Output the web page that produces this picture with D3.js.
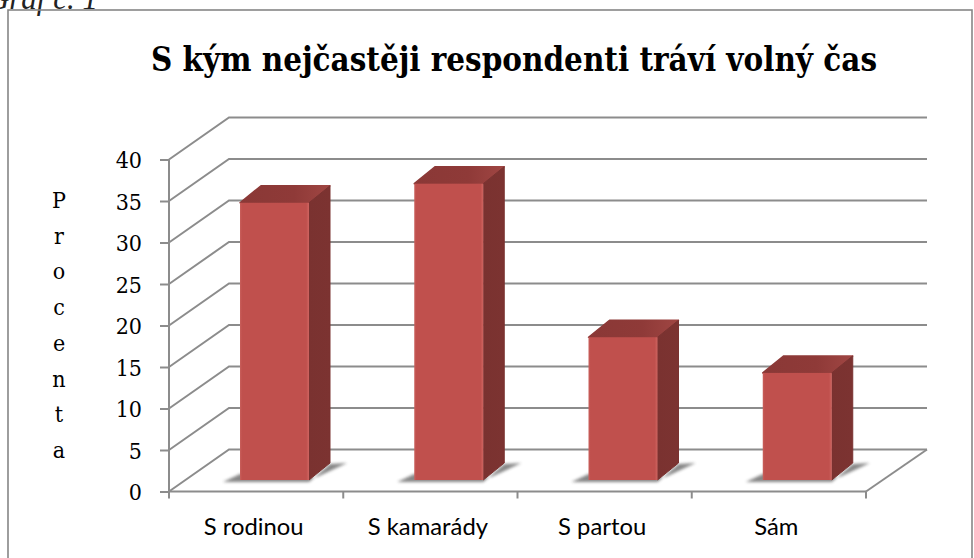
<!DOCTYPE html>
<html><head><meta charset="utf-8">
<script src="https://cdn.jsdelivr.net/npm/d3@7"></script>
<style>html,body{margin:0;padding:0;background:#fff;overflow:hidden}svg{display:block}</style>
</head><body><svg id="c" width="974" height="558"></svg>
<script>
const categories = ["S rodinou","S kamarády","S partou","Sám"];
const values = [33.4,35.7,17.2,12.9];
const yTicks = [0,5,10,15,20,25,30,35,40];
const axisTitleLetters = ["P","r","o","c","e","n","t","a"];
const titleText = "S kým nejčastěji respondenti tráví volný čas";
const captionText = "Graf č. 1";

const svg = d3.select("#c");
const SERIF = "'DejaVu Serif Condensed','DejaVu Serif',serif", SANS = "Lato,'Open Sans',sans-serif";
const grid = "#8c8c8c";
const x = d3.scaleBand().domain(categories).range([169,866]);
const y = d3.scaleLinear().domain([0,40]).range([491.5,159.5]);
const back = {dx:60,dy:-42};
const barBand = {w:69,ox:71,oy:-11.5,dx:21,dy:-17};

const defs = svg.append("defs");
const grad=(id,stops,x2,y2)=>{const g=defs.append("linearGradient").attr("id",id).attr("x1",0).attr("y1",0).attr("x2",x2).attr("y2",y2);
 stops.forEach(s=>g.append("stop").attr("offset",s[0]).attr("stop-color",s[1]));};
grad("front",[[0,"#c9605c"],[0.03,"#c0504d"],[0.96,"#c0504d"],[1,"#cf6561"]],1,0);
grad("top",[[0,"#8a3836"],[0.6,"#8f3a38"],[1,"#a04643"]],1,0);
grad("side",[[0,"#7a3230"],[1,"#7c3331"]],1,0);
defs.append("filter").attr("id","blur").attr("x","-30%").attr("y","-60%").attr("width","160%").attr("height","220%")
  .append("feGaussianBlur").attr("stdDeviation",1.6);

// caption clipped by top of page
svg.append("text").attr("x",98).attr("y",9).attr("text-anchor","end").attr("font-family","'Liberation Serif',serif").attr("font-style","italic")
  .attr("font-size",31).attr("fill","#222").text(captionText);

// frame
svg.append("rect").attr("x",8).attr("y",10).attr("width",964).attr("height",570)
  .attr("fill","none").attr("stroke","#868686").attr("stroke-width",1.6);

svg.append("text").attr("x",514).attr("y",71).attr("text-anchor","middle").attr("font-family",SERIF)
  .attr("font-weight","bold").attr("font-size",32.8).attr("fill","#000").text(titleText);

// gridlines: side wall and back wall
const gl = svg.append("g").attr("fill","none").attr("stroke",grid).attr("stroke-width",2);
gl.selectAll("path").data(yTicks).join("path")
  .attr("d",t=>d3.line()([[x.range()[0],y(t)],[x.range()[0]+back.dx,y(t)+back.dy],[x.range()[1]+back.dx+1,y(t)+back.dy]]));
// floor right edge
gl.append("path").attr("d",d3.line()([[x.range()[1],y(0)],[x.range()[1]+back.dx+1,y(0)+back.dy]]));

// axes
const ax = svg.append("g").attr("transform",`translate(${x.range()[0]},0)`)
  .call(d3.axisLeft(y).tickValues(yTicks).tickSize(9).tickPadding(18));
ax.selectAll("path,line").attr("stroke",grid).attr("stroke-width",2);
ax.select(".domain").attr("d",`M0,${y(40)}V${y(0)+5}`);
ax.selectAll("text").attr("font-family",SERIF).attr("font-size",23).attr("fill","#000").attr("dy","0.36em");

const bx = svg.append("g").attr("transform",`translate(0,${y(0)})`)
  .call(d3.axisBottom(x).tickSize(8).tickPadding(19).tickSizeOuter(8));
bx.selectAll(".tick line").remove();
bx.selectAll("path").attr("stroke",grid).attr("stroke-width",2).attr("fill","none");
bx.select(".domain").attr("d",`M${x.range()[0]},0H${x.range()[1]}`);
bx.selectAll(".mt").data(x.domain().map(d=>x(d)).concat([x.range()[1]])).join("line").attr("class","mt")
  .attr("x1",d=>d).attr("x2",d=>d).attr("y1",0).attr("y2",7).attr("stroke",grid).attr("stroke-width",2);
bx.selectAll(".tick text").attr("font-family",SANS).attr("font-size",23.8).attr("fill","#000").attr("dx",-2.5);

// axis title letters
svg.append("g").selectAll("text").data(axisTitleLetters).join("text")
  .attr("x",59).attr("y",(d,i)=>208+i*35.7).attr("text-anchor","middle")
  .attr("font-family",SERIF).attr("font-size",23).attr("fill","#000").text(d=>d);

// bars
const bars = svg.append("g").selectAll("g").data(categories.map((c,i)=>({c,v:values[i]}))).join("g");
const L=d=>x(d.c)+barBand.ox, R=d=>L(d)+barBand.w, B=y(0)+barBand.oy, T=d=>y(d.v)+barBand.oy;
const poly=pts=>d3.line()(pts)+"Z";
bars.append("path").attr("filter","url(#blur)").attr("fill","#808080").attr("opacity",0.95)
  .attr("d",d=>poly([[L(d)-17,B+2],[R(d),B+2],[R(d)+barBand.dx,B+barBand.dy+1],[R(d)+barBand.dx+17,B+barBand.dy],[R(d)+8,B-3],[L(d),B-6]]));
bars.append("path").attr("fill","url(#top)").attr("stroke","url(#top)").attr("stroke-width",1.5).attr("stroke-linejoin","round")
  .attr("d",d=>poly([[L(d),T(d)],[L(d)+barBand.dx,T(d)+barBand.dy],[R(d)+barBand.dx,T(d)+barBand.dy],[R(d),T(d)]]));
bars.append("path").attr("fill","url(#side)").attr("stroke","#7a3230").attr("stroke-width",1).attr("stroke-linejoin","round")
  .attr("d",d=>poly([[R(d),T(d)],[R(d)+barBand.dx,T(d)+barBand.dy],[R(d)+barBand.dx,B+barBand.dy],[R(d),B]]));
bars.append("rect").attr("fill","url(#front)").attr("x",L).attr("y",T).attr("width",barBand.w).attr("height",d=>B-T(d));
</script></body></html>
